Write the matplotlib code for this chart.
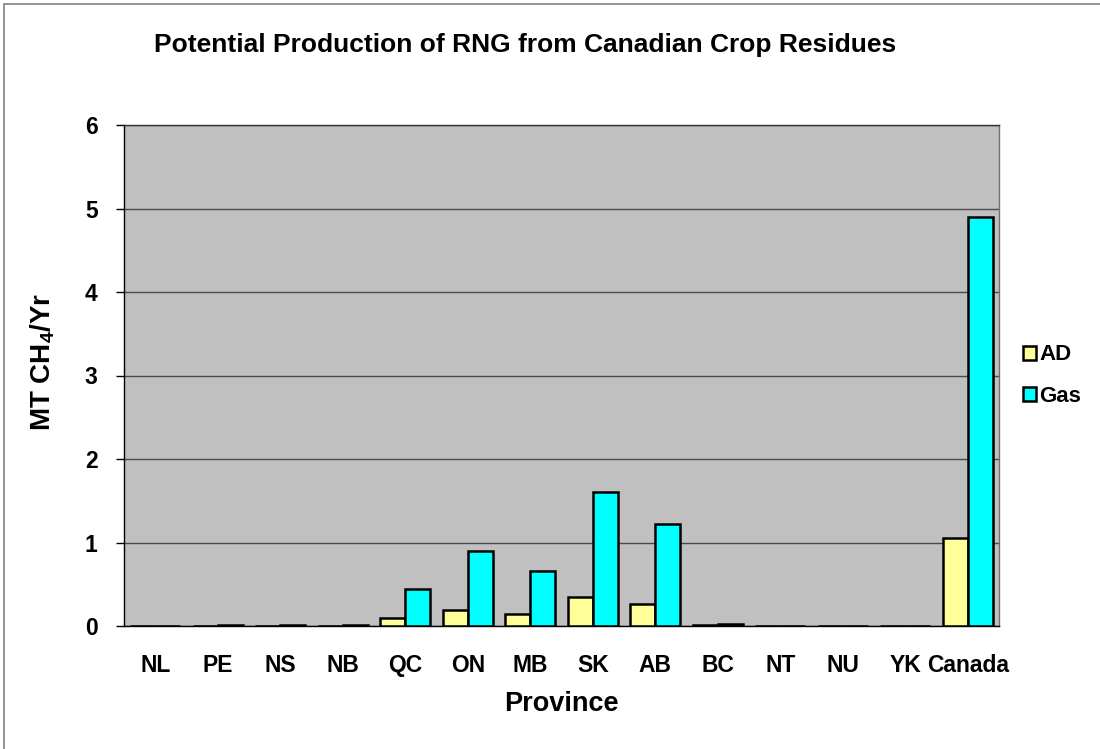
import matplotlib
matplotlib.use("Agg")
import matplotlib.pyplot as plt
import matplotlib.patches as mpatches
import numpy as np

provinces = ["NL", "PE", "NS", "NB", "QC", "ON", "MB", "SK", "AB", "BC", "NT", "NU", "YK", "Canada"]
ad_values = [0.005, 0.005, 0.005, 0.005, 0.10, 0.19, 0.14, 0.35, 0.26, 0.01, 0.0, 0.0, 0.0, 1.05]
gas_values = [0.005, 0.015, 0.007, 0.010, 0.44, 0.90, 0.66, 1.61, 1.22, 0.02, 0.0, 0.0, 0.0, 4.90]
y_ticks = [0, 1, 2, 3, 4, 5, 6]

plt.rcParams["font.family"] = ["Liberation Sans", "DejaVu Sans"]
plt.rcParams["font.weight"] = "bold"
plt.rcParams["mathtext.fontset"] = "custom"
plt.rcParams["mathtext.rm"] = "Liberation Sans:bold"
plt.rcParams["mathtext.it"] = "Liberation Sans:bold"
plt.rcParams["mathtext.bf"] = "Liberation Sans:bold"

fig = plt.figure(figsize=(11.0, 7.49), dpi=100)
ax = fig.add_axes([124 / 1100, 123 / 749, 875 / 1100, 501 / 749])
ax.set_facecolor("#C0C0C0")

x = np.arange(len(provinces))
w = 0.4
ax.bar(x - w / 2, ad_values, width=w, color="#FFFF99", edgecolor="black",
       linewidth=1.8, label="AD", zorder=3)
ax.bar(x + w / 2, gas_values, width=w, color="#00FFFF", edgecolor="black",
       linewidth=1.8, label="Gas", zorder=3)

ax.set_xlim(-0.5, len(provinces) - 0.5)
ax.set_ylim(0, 6)
ax.set_yticks(y_ticks)
ax.set_xticks(x)
ax.set_xticklabels(provinces)
ax.yaxis.grid(True, color="#4a4a4a", linewidth=1.0, zorder=1)
ax.set_axisbelow(True)

ax.tick_params(axis="y", direction="out", length=6, width=1, pad=13,
               labelsize=16.5, color="black")
ax.tick_params(axis="x", length=0, pad=20, labelsize=16.5)
for lbl in ax.get_xticklabels() + ax.get_yticklabels():
    lbl.set_fontweight("bold")

ax.spines["left"].set_color("black")
ax.spines["bottom"].set_color("black")
ax.spines["top"].set_color("#333333")
ax.spines["right"].set_color("#707070")
for s in ax.spines.values():
    s.set_linewidth(1.0)

ax.set_xlabel("Province", fontsize=19.5, fontweight="bold", labelpad=10)
ax.set_ylabel(r"MT CH$_4$/Yr", fontsize=20, fontweight="bold")
ax.yaxis.set_label_coords(-0.077, 0.527)

fig.text(525 / 1100, 1 - 45 / 749, "Potential Production of RNG from Canadian Crop Residues",
         ha="center", va="center", fontsize=19, fontweight="bold")

leg = ax.legend(loc="center left", bbox_to_anchor=(1.004, 0.5), frameon=False,
                fontsize=16, handlelength=0.6, handleheight=0.6,
                handletextpad=0.15, labelspacing=0.9)
for t in leg.get_texts():
    t.set_fontweight("bold")
for h in leg.legend_handles:
    h.set_linewidth(1.8)

# outer chart frame (left and top edges visible)
frame = mpatches.Rectangle((4 / 1100, -0.05), 1.2, 1 - 4 / 749 + 0.05,
                           transform=fig.transFigure, fill=False,
                           edgecolor="#808080", linewidth=1.2, clip_on=False)
fig.patches.append(frame)

fig.savefig("out.png", dpi=100)
